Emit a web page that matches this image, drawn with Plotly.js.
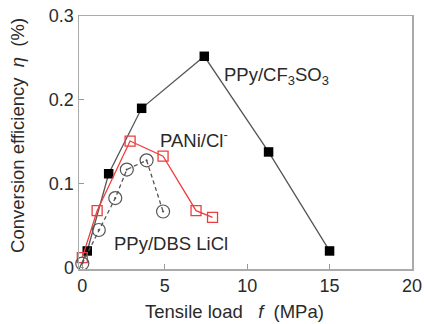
<!DOCTYPE html>
<html><head><meta charset="utf-8">
<script src="https://cdn.plot.ly/plotly-3.0.1.min.js"></script>
<style>html,body{margin:0;padding:0;background:#fff}#chart{width:424px;height:324px}</style>
</head><body><div id="chart"></div>
<script>
const cfX = [-0.2, 0.3, 1.6, 3.6, 7.4, 11.3, 15.0];
const cfY = [-0.002, 0.02, 0.112, 0.19, 0.252, 0.138, 0.02];
const paniX = [0, 0.9, 2.9, 4.9, 6.9, 7.9];
const paniY = [0.012, 0.068, 0.151, 0.133, 0.068, 0.06];
const dbsX = [0, 1.0, 2.0, 2.7, 3.9, 4.9];
const dbsY = [0.005, 0.045, 0.083, 0.117, 0.128, 0.067];
const labels = [
  {text: "PPy/CF<sub>3</sub>SO<sub>3</sub>", x: 8.5, y: 0.229},
  {text: "PANi/Cl<sup>-</sup>", x: 4.6, y: 0.154},
  {text: "PPy/DBS LiCl", x: 1.8, y: 0.029}
];
const xTitle = "Tensile load\u00a0\u00a0\u00a0<i>f</i>\u00a0\u00a0(MPa)";
const yTitle = "Conversion efficiency\u00a0\u00a0<i>η</i>\u00a0\u00a0(%)";
const font = "Liberation Sans, Arial, sans-serif";
const txt = "#2a2a2a";
const traces = [
  {x: cfX, y: cfY, mode: "lines+markers", cliponaxis: false,
   line: {color: "#555", width: 1.3},
   marker: {symbol: "square", size: 9.5, color: "#000", line: {color: "#000", width: 0}}},
  {x: paniX, y: paniY, mode: "lines+markers", cliponaxis: false,
   line: {color: "#f03c3c", width: 1.3},
   marker: {symbol: "square-open", size: 10, color: "#f03c3c", line: {width: 1.3}}},
  {x: dbsX, y: dbsY, mode: "lines+markers", cliponaxis: false,
   line: {color: "#555", width: 1.3, dash: "4px,3px"},
   marker: {symbol: "circle-open-dot", size: 13, color: "#555", line: {width: 1.2}}}
];
const ann = labels.map(l => ({text: l.text, x: l.x, y: l.y, xref: "x", yref: "y",
    xanchor: "left", yanchor: "middle", showarrow: false, font: {size: 18.5, color: txt}}));
ann.push({text: xTitle, xref: "paper", yref: "paper", x: 0.468, y: -0.168,
  xanchor: "center", yanchor: "middle", showarrow: false, font: {size: 18.5, color: txt}});
ann.push({text: yTitle, xref: "paper", yref: "paper", x: -0.183, y: 0.526, textangle: -90,
  xanchor: "center", yanchor: "middle", showarrow: false, font: {size: 18.5, color: txt}});
const layout = {
  width: 424, height: 324,
  margin: {l: 79, r: 12, t: 16, b: 55},
  paper_bgcolor: "#fff", plot_bgcolor: "#fff",
  showlegend: false,
  font: {family: font, size: 18, color: txt},
  xaxis: {range: [-0.2, 20], tickvals: [0, 5, 10, 15, 20], ticks: "inside", ticklen: 5,
    tickcolor: "#999", showgrid: false, zeroline: false, showline: true, mirror: true,
    linecolor: "#aaa", linewidth: 1.5, tickfont: {size: 18, color: txt}},
  yaxis: {range: [-0.0015, 0.3], tickvals: [0, 0.1, 0.2, 0.3], ticktext: ["0", "0.1", "0.2", "0.3"],
    ticks: "inside", ticklen: 5, tickcolor: "#999", showgrid: false, zeroline: false,
    showline: true, mirror: true, linecolor: "#aaa", linewidth: 1.5,
    tickfont: {size: 18, color: txt}},
  annotations: ann
};
Plotly.newPlot("chart", traces, layout, {staticPlot: true});
</script></body></html>
